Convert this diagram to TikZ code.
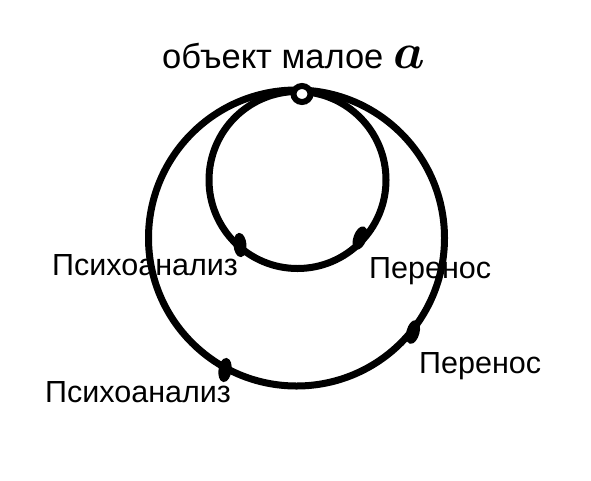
\documentclass[tikz,border=0pt]{standalone}
\usepackage{fix-cm}
\usepackage{amsmath}
\usepackage{fontspec}
\setmainfont{Liberation Sans}

\tikzset{
    ring/.style={line width=7pt},
    knot/.style={line width=4pt, fill=black},
    lbl/.style={font=\fontsize{30.5}{36}\selectfont, inner sep=0pt, anchor=base west},
}

\begin{document}
\begin{tikzpicture}[x=1pt, y=-1pt]
        \useasboundingbox (0,0) rectangle (591,480);

        % --- 円 ---
        \draw[ring] (296.5,238) circle[radius=148];
        \draw[ring] (297.5,180) circle[radius=88.5];

        % --- 結び目 ---
        \draw[line width=6pt, fill=white] (302,94) ellipse[x radius=8.5, y radius=8];
        \foreach \x/\y/\r in {240/245/5, 360/238/-20, 413/332/-15, 225/370/-8} {
            \draw[knot, rotate around={\r:(\x,\y)}] (\x,\y) ellipse[x radius=4.5, y radius=10];
        }

        % --- ラベル ---
        \node[lbl, font=\fontsize{34.5}{40}\selectfont] (obj) at (162,68)
            {объект малое {\fontsize{50}{56}\selectfont$\boldsymbol{a}$}};
        \node[lbl] (psy1) at (52,275) {Психоанализ};
        \node[lbl] (tr1) at (369,278) {Перенос};
        \node[lbl] (tr2) at (419,373) {Перенос};
        \node[lbl] (psy2) at (45,402) {Психоанализ};

    \end{tikzpicture}
\end{document}
